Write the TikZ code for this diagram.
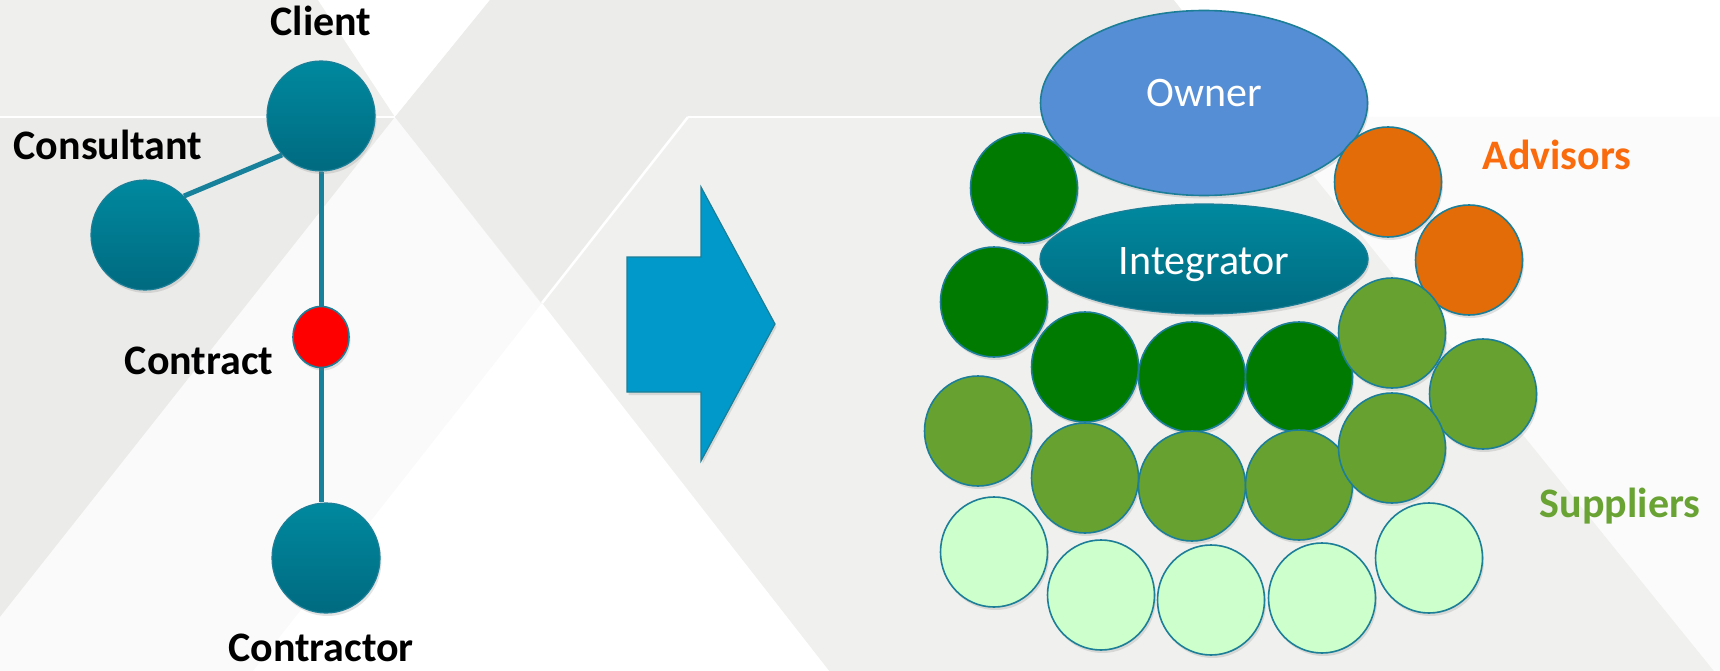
\documentclass[tikz,border=0pt]{standalone}
\usepackage{fontspec}
\setmainfont{Carlito}
\usetikzlibrary{shapes.geometric,shadows}
\pgfdeclarelayer{bg}
\pgfdeclarelayer{lines}
\pgfsetlayers{bg,lines,main}
\definecolor{edge}{HTML}{1C7E97}
\definecolor{tealT}{HTML}{00899F}
\definecolor{tealD}{HTML}{006A80}
\definecolor{linecol}{HTML}{17809A}
\definecolor{arrowblue}{HTML}{0099CA}
\definecolor{ownerblue}{HTML}{558ED5}
\definecolor{dgreen}{HTML}{007A00}
\definecolor{mgreen}{HTML}{67A230}
\definecolor{lgreen}{HTML}{CCFFCC}
\definecolor{orangec}{HTML}{E36C09}
\definecolor{advtext}{HTML}{F96B0C}
\definecolor{suptext}{HTML}{69A334}
\definecolor{bgA}{HTML}{EFEFED}
\definecolor{bgB}{HTML}{EBEBE9}
\definecolor{bgC}{HTML}{ECECEA}
\definecolor{bgD}{HTML}{F0F0EE}
\definecolor{bgE}{HTML}{FAFAFA}
\definecolor{bgF}{HTML}{FBFBFB}
\begin{document}
\begin{tikzpicture}[x=1pt,y=-1pt,
  shad/.style={drop shadow={shadow xshift=1.5pt,shadow yshift=-3pt,opacity=0.22}},
  tealnode/.style={ellipse,draw=edge,line width=1.2pt,top color=tealT,bottom color=tealD,
    minimum width=108pt,minimum height=110pt,inner sep=0pt,shad},
  bubble/.style={ellipse,draw=edge,line width=1.6pt,minimum width=107pt,minimum height=110pt,inner sep=0pt,shad},
  dg/.style={bubble,fill=dgreen},
  mg/.style={bubble,fill=mgreen},
  lg/.style={bubble,fill=lgreen},
  og/.style={bubble,fill=orangec},
  lbl/.style={font=\fontsize{42}{50}\selectfont\bfseries,anchor=base,inner sep=0pt},
  wtxt/.style={font=\fontsize{42}{50}\selectfont,text=white,anchor=base,inner sep=0pt},
  conn/.style={draw=linecol,line width=5pt},
  sep/.style={draw=white,line width=2.5pt}
]
\useasboundingbox (0,0) rectangle (1720,671);
% ---------- background ----------
\begin{pgfonlayer}{bg}
\fill[bgD] (0,0) rectangle (1720,671);
\fill[bgA] (0,0) -- (318,0) -- (395,117) -- (0,117) -- cycle;
\fill[white] (318,0) -- (490,0) -- (395,117) -- cycle;
\fill[bgB] (0,117) -- (395,117) -- (0,617) -- cycle;
\fill[bgE] (395,117) -- (0,617) -- (0,671) -- (829,671) -- cycle;
\fill[white] (542,303) -- (253,671) -- (829,671) -- cycle;
\fill[bgC] (490,0) -- (1174,0) -- (1266,117) -- (688,117) -- (542,303) -- (395,117) -- cycle;
\fill[white] (1174,0) -- (1720,0) -- (1720,117) -- (1266,117) -- cycle;
\fill[bgF] (1266,117) -- (1720,117) -- (1720,671) -- (1714,671) -- cycle;
\draw[sep] (0,117) -- (395,117);
\draw[sep] (688,117) -- (1266,117);
\draw[sep] (688,117) -- (542,303);
\end{pgfonlayer}
% ---------- left graph ----------
\node[tealnode] (client) at (321,116) {};
\node[tealnode] (consultant) at (145,235) {};
\node[tealnode] (contractor) at (326,558) {};
\node[ellipse,draw=edge,line width=1.6pt,fill=red,minimum width=56pt,minimum height=61pt,inner sep=0pt,shad] (contract) at (321,337) {};
\begin{pgfonlayer}{lines}
\draw[conn] (client.south) -- (contract.north);
\draw[conn] (contract.south) -- (contract.south |- contractor.north);
\draw[conn] (client.225) -- (consultant.45);
\end{pgfonlayer}
\node[lbl] (tclient) at (321,36) {Client};
\node[lbl] (tconsultant) at (108,160) {Consultant};
\node[lbl] (tcontract) at (199,374) {Contract};
\node[lbl] (tcontractor) at (321,661) {Contractor};
% ---------- arrow ----------
\draw[fill=arrowblue,draw=edge,line width=1.2pt,shad] (627,257) -- (701,257) -- (701,187) -- (775,324) -- (701,461) -- (701,392) -- (627,392) -- cycle;
% ---------- right cluster ----------
\node[ellipse,draw=edge,line width=1.6pt,fill=ownerblue,minimum width=327pt,minimum height=185pt,inner sep=0pt,shad] (owner) at (1204,103) {};
\node[wtxt] (towner) at (1204,107) {Owner};
\node[ellipse,draw=edge,line width=1.2pt,top color=tealT,bottom color=tealD,minimum width=328pt,minimum height=110pt,inner sep=0pt,shad] (integrator) at (1204,259) {};
\node[wtxt] (tintegrator) at (1204,274) {Integrator};
\node[dg] (d1) at (1024,188) {};
\node[dg] (d2) at (994,302) {};
\node[og] (o1) at (1388,182) {};
\node[og] (o2) at (1469,260) {};
\node[dg] (d3) at (1085,367) {};
\node[dg] (d4) at (1192,377) {};
\node[dg] (d5) at (1299,377) {};
\node[mg] (m1) at (978,431) {};
\node[mg] (m2) at (1085,478) {};
\node[mg] (m3) at (1192,486) {};
\node[mg] (m4) at (1299,485) {};
\node[mg] (mA) at (1392,333) {};
\node[mg] (mB) at (1483,394) {};
\node[mg] (mC) at (1392,448) {};
\node[lg] (l1) at (994,552) {};
\node[lg] (l2) at (1101,595) {};
\node[lg] (l3) at (1211,600) {};
\node[lg] (l4) at (1322,598) {};
\node[lg] (l5) at (1429,558) {};
\node[lbl,text=advtext] (tadv) at (1557,170) {Advisors};
\node[lbl,text=suptext] (tsup) at (1620,517) {Suppliers};
\end{tikzpicture}
\end{document}
